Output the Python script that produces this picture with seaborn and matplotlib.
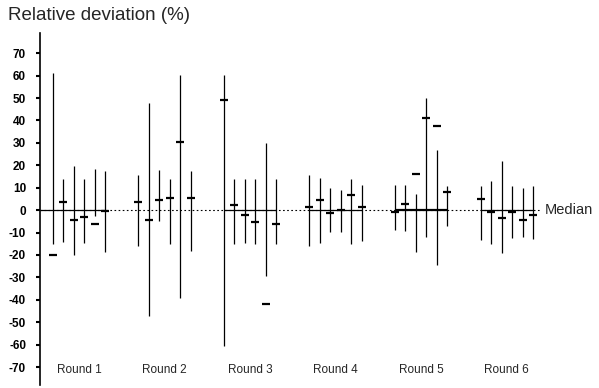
import matplotlib
matplotlib.use("Agg")
import matplotlib.pyplot as plt
import seaborn as sns
import numpy as np
import pandas as pd

rounds = ["Round 1", "Round 2", "Round 3", "Round 4", "Round 5", "Round 6"]
labs = [1, 2, 3, 4, 5, 6]

# range (high / low) and median of relative deviation (%) per lab, per round
high = [
    [61, 14, 19.5, 14, 18.4, 17.5],
    [15.8, 48, 17.7, 14, 60.2, 17.3],
    [60.2, 14, 14, 14, 29.9, 14],
    [15.8, 14.5, 9.9, 9.1, 14, 11.3],
    [11.3, 11.3, 7.2, 50, 26.9, 10.6],
    [10.9, 12.8, 22.1, 10.6, 9.9, 10.9],
]
low = [
    [-15.3, -14.3, -19.8, -14.5, -2.7, -18.7],
    [-15.8, -47.2, -5, -14.9, -39.3, -18.3],
    [-60.7, -15, -14.5, -15, -29.4, -15],
    [-16, -14.6, -9.9, -9.9, -15.3, -13.9],
    [-9, -9.4, -18.7, -11.9, -24.5, -7.2],
    [-13.4, -14.9, -19, -12.4, -11.9, -13.1],
]
median = [
    [-20, 3.8, -4.2, -3.2, -6.3, -0.5],
    [3.5, -4.2, 4.4, 5.4, 30.6, 5.4],
    [49.1, 2.1, -2.3, -5.3, -42, -6.1],
    [1.3, 4.4, -1.1, 0.2, 6.6, 1.3],
    [-1, 2.7, 16.2, 41, 37.7, 7.9],
    [5, -1, -3.6, -1, -4.2, -2.3],
]

ROUND_STEP = 8.15
rows = []
for r, rname in enumerate(rounds):
    for j, lab in enumerate(labs):
        rows.append(dict(round=rname, lab=lab, x=r * ROUND_STEP + j,
                         high=high[r][j], low=low[r][j], median=median[r][j]))
df = pd.DataFrame(rows)

sns.set_theme(style="white")
plt.rcParams["font.family"] = ["Liberation Sans", "DejaVu Sans"]

fig = plt.figure(figsize=(5.99, 3.88), dpi=100)
ax = fig.add_axes([40 / 599, 3 / 388, 559 / 599, (385 - 33) / 388])

xmin, xmax = -1.21, 52.03
ax.set_xlim(xmin, xmax)
ax.set_ylim(-78, 79)

# median reference line
ax.hlines(0, xmin, 46.4, colors="black", linestyles=(0, (1.5, 2.2)), linewidth=0.8, zorder=1)
for r in range(len(rounds)):
    if r == 1:
        continue
    x0 = df.x[df["round"] == rounds[r]].min()
    x1 = df.x[df["round"] == rounds[r]].max()
    if r == 0:
        x0 = xmin
    ax.hlines(0, x0, x1, colors="black", linewidth=1.6 if r == 4 else 0.9, zorder=1)

# ranges
ax.vlines(df.x, df.low, df.high, colors="black", linewidth=0.9, zorder=2)

# medians
sns.scatterplot(data=df, x="x", y="median", marker="_", s=32, color="black",
                linewidth=1.6, ax=ax, legend=False, zorder=3)

# round labels
for r, rname in enumerate(rounds):
    ax.text(r * ROUND_STEP + 2.5, -71.5, rname, ha="center", va="center", fontsize=8.5)

ax.text(46.9, 0, "Median", ha="left", va="center", fontsize=10.5)

ax.set_xlabel("")
ax.set_ylabel("")
ax.set_xticks([])
yt = list(range(-70, 71, 10))
ax.set_yticks(yt)
ax.set_yticklabels([str(v) for v in yt], fontsize=8.5, fontweight="bold")
ax.tick_params(axis="y", direction="out", length=3, width=1.5, pad=7, colors="black", left=True)
for s in ["top", "right", "bottom"]:
    ax.spines[s].set_visible(False)
ax.spines["left"].set_color("black")
ax.spines["left"].set_linewidth(1.2)

fig.text(8 / 599, 1 - 16 / 388, "Relative deviation (%)", ha="left", va="center", fontsize=13.5)

fig.savefig("out.png", dpi=100)
